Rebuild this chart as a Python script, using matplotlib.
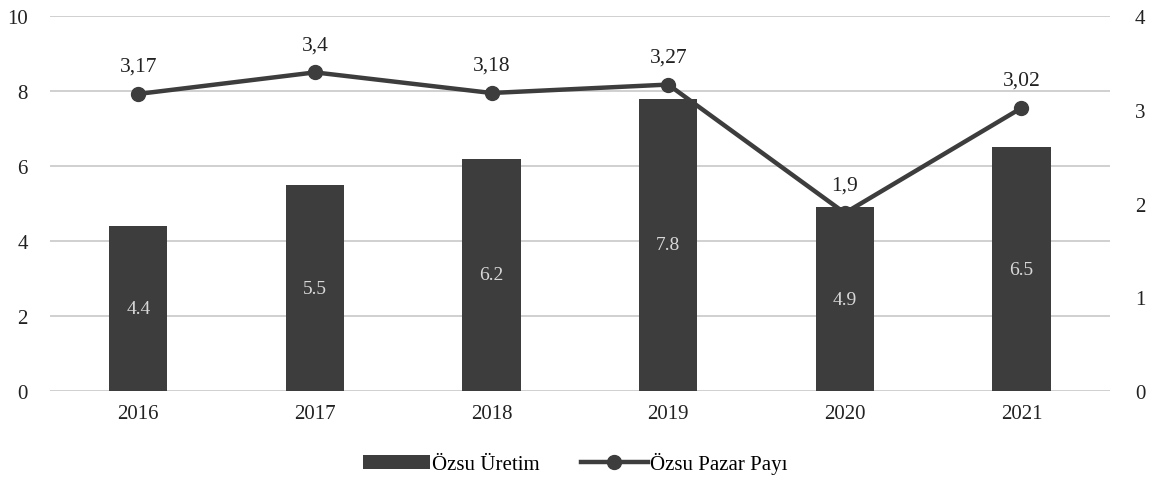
import matplotlib.pyplot as plt
import numpy as np

plt.rcParams['font.family'] = ['Liberation Serif', 'DejaVu Serif']

years = ['2016', '2017', '2018', '2019', '2020', '2021']
uretim = [4.4, 5.5, 6.2, 7.8, 4.9, 6.5]
pazar_payi = [3.17, 3.4, 3.18, 3.27, 1.9, 3.02]
pazar_labels = ['3,17', '3,4', '3,18', '3,27', '1,9', '3,02']

dark = '#3d3d3d'

fig = plt.figure(figsize=(11.5, 4.89), dpi=100)
ax = fig.add_axes([0.0435, 0.198, 0.9215, 0.767])
x = np.arange(len(years))

# bars (left axis)
bars = ax.bar(x, uretim, width=0.33, color=dark, label='Özsu Üretim', zorder=2)
ax.bar_label(bars, labels=[str(v) for v in uretim], label_type='center',
             color='#d8d8d8', fontsize=14)
ax.set_ylim(0, 10)
ax.set_yticks([0, 2, 4, 6, 8, 10])
ax.set_xlim(-0.5, 5.5)
ax.set_xticks(x)
ax.set_xticklabels(years)
ax.grid(axis='y', color='#c8c8c8', linewidth=1.2, zorder=0)
ax.set_axisbelow(True)
for s in ax.spines.values():
    s.set_visible(False)
ax.tick_params(length=0, labelsize=15, colors='#222222')
ax.tick_params(axis='x', pad=9)
ax.tick_params(axis='y', pad=16)

# line (right axis)
ax2 = ax.twinx()
line, = ax2.plot(x, pazar_payi, color=dark, linewidth=3.2, marker='o',
                 markersize=10, label='Özsu Pazar Payı', zorder=3)
for xi, yi, t in zip(x, pazar_payi, pazar_labels):
    ax2.annotate(t, (xi, yi), xytext=(0, 13), textcoords='offset points',
                 ha='center', va='bottom', fontsize=15.5, color='#222222')
ax2.set_ylim(0, 4)
ax2.set_yticks([0, 1, 2, 3, 4])
for s in ax2.spines.values():
    s.set_visible(False)
ax2.tick_params(length=0, labelsize=15, colors='#222222', pad=18)

fig.legend([bars, line], ['Özsu Üretim', 'Özsu Pazar Payı'], loc='lower center',
           bbox_to_anchor=(0.5, -0.01), ncol=2, frameon=False, fontsize=15,
           handlelength=3.2, handletextpad=0.1, columnspacing=2.0)

fig.savefig('out.png', dpi=100)
